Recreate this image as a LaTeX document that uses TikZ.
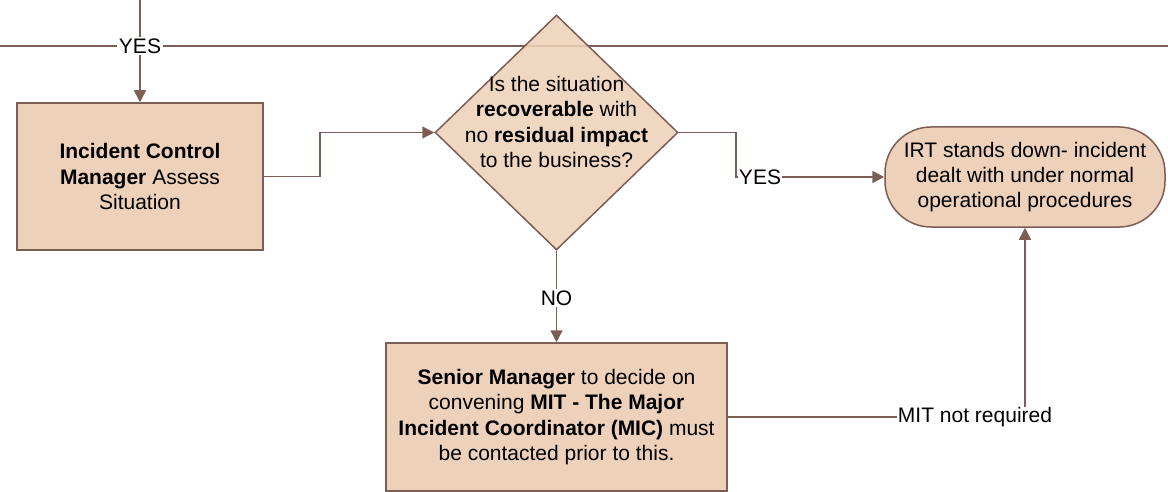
\documentclass[tikz,border=0pt]{standalone}
\usepackage{fontspec}
\setmainfont{Liberation Sans}
\usetikzlibrary{arrows.meta,shapes.geometric}
\definecolor{peach}{RGB}{237,209,186}
\definecolor{brn}{RGB}{125,94,85}
\begin{document}
\begin{tikzpicture}[x=1pt,y=-1pt,
  font=\fontsize{21}{25.4}\selectfont,
  box/.style={draw=brn,line width=1.5pt,fill=peach,align=center,inner sep=0pt},
  conn/.style={draw=brn,line width=1.5pt},
  arr/.style={conn,-{Triangle[length=12pt,width=12pt]}},
  lbl/.style={fill=white,inner sep=1.5pt}]
\useasboundingbox (0,0) rectangle (1168,492);
% free lines at the top
\coordinate (top) at (140,0);
\coordinate (hl) at (0,46);
\coordinate (hr) at (1168,46);
\draw[conn] (hl) -- (hr);
% nodes
\node[box,minimum width=246pt,minimum height=147pt] (icm) at (140,176.5)
  {\textbf{Incident Control}\\\textbf{Manager} Assess\\Situation};
\node[diamond,draw=brn,line width=1.5pt,fill=peach,fill opacity=0.88,inner sep=0pt,
  minimum width=243pt,minimum height=235pt] (dia) at (556.5,132.5) {};
\node[align=center,inner sep=0pt] (diatext) at (556.5,122)
  {Is the situation\\\textbf{recoverable} with\\no \textbf{residual impact}\\to the business?};
\node[box,rounded corners=46pt,minimum width=280pt,minimum height=100pt] (irt) at (1025,177)
  {IRT stands down- incident\\dealt with under normal\\operational procedures};
\node[box,minimum width=341pt,minimum height=148pt] (sm) at (556.5,417)
  {\textbf{Senior Manager} to decide on\\convening \textbf{MIT - The Major}\\\textbf{Incident Coordinator (MIC)} must\\be contacted prior to this.};
% connectors
\draw[arr] (top) -- (icm.north);
\node[lbl] (yes1) at (140,46) {YES};
\draw[arr] (icm.east) -- ++(56,0) |- (dia.west);
\draw[arr] (dia.east) -- ++(57,0) |- (irt.west);
\node[lbl,inner sep=0.5pt] (yes2) at (760,177) {YES};
\draw[arr] (dia.south) -- (sm.north);
\node[lbl] (no) at (556.5,298) {NO};
\draw[arr] (sm.east) -| (irt.south);
\node[lbl,inner sep=0.5pt] (mit) at (975,417) {MIT not required};
\end{tikzpicture}
\end{document}
